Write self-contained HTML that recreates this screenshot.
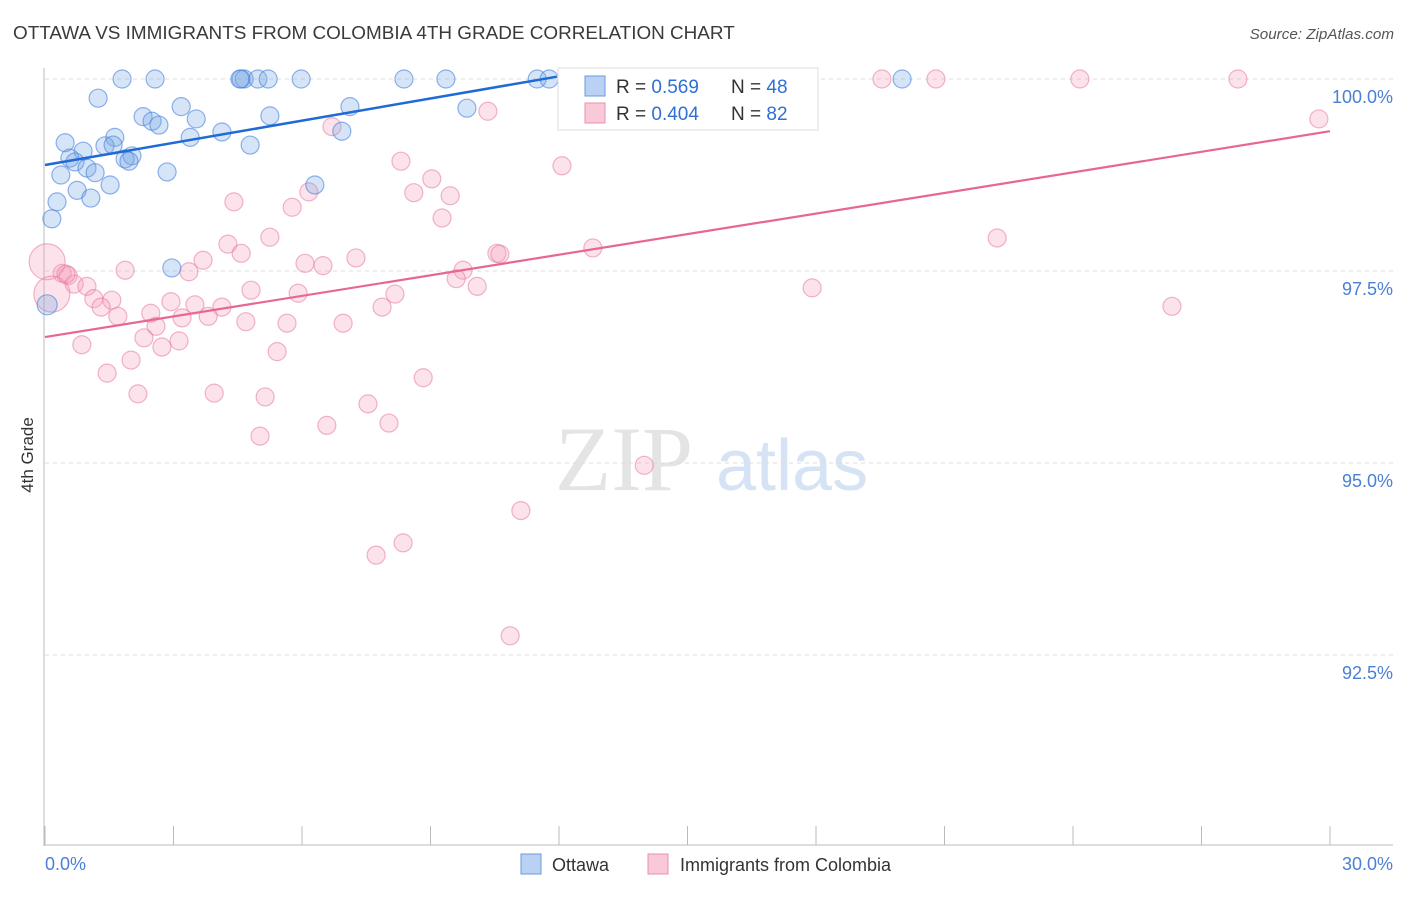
<!DOCTYPE html>
<html><head><meta charset="utf-8"><style>
body{margin:0;background:#fff;font-family:"Liberation Sans",sans-serif;}
</style></head><body>
<svg id="chart" width="1406" height="892" xmlns="http://www.w3.org/2000/svg" font-family="Liberation Sans, sans-serif">
<text x="13" y="39" font-size="18.9" fill="#3a3a3a">OTTAWA VS IMMIGRANTS FROM COLOMBIA 4TH GRADE CORRELATION CHART</text>
<text x="1394" y="39" font-size="15.2" fill="#555" font-style="italic" text-anchor="end">Source: ZipAtlas.com</text>
<g>
<text x="555" y="490" font-size="92" fill="#e4e4e4" font-family="Liberation Serif, serif">ZIP</text>
<text x="716" y="490" font-size="72" fill="#d6e3f4">atlas</text>
</g>
<g id="grid"></g>
<g id="axes"></g>
<g id="pts"></g>
<g id="trend"></g>
<text transform="translate(33,455) rotate(-90)" font-size="17" fill="#333" text-anchor="middle">4th Grade</text>
<g>
<rect x="558" y="68" width="260" height="62" fill="#fff" stroke="#ddd"/>
<rect x="585" y="76" width="20" height="20" fill="#b9d2f4" stroke="#6a9ae0"/>
<text x="616" y="93" font-size="19" fill="#333">R = <tspan fill="#2f6fd6">0.569</tspan></text>
<text x="731" y="93" font-size="19" fill="#333">N = <tspan fill="#2f6fd6">48</tspan></text>
<rect x="585" y="103" width="20" height="20" fill="#f9c9d7" stroke="#e890b0"/>
<text x="616" y="120" font-size="19" fill="#333">R = <tspan fill="#2f6fd6">0.404</tspan></text>
<text x="731" y="120" font-size="19" fill="#333">N = <tspan fill="#2f6fd6">82</tspan></text>
</g>
<g>
<rect x="521" y="854" width="20" height="20" fill="#b9d2f4" stroke="#6a9ae0"/>
<text x="552" y="871" font-size="18" fill="#333">Ottawa</text>
<rect x="648" y="854" width="20" height="20" fill="#f9c9d7" stroke="#e890b0"/>
<text x="680" y="871" font-size="18" fill="#333">Immigrants from Colombia</text>
</g>
</svg>
<script>
const yTicks=[100,97.5,95,92.5];
const yTickLabels=["100.0%","97.5%","95.0%","92.5%"];
const xTicks=[0,3,6,9,12,15,18,21,24,27,30];
const blueX=[1.80,2.57,4.58,4.65,4.97,5.21,5.98,8.38,9.36,11.49,11.77,20.01,1.24,3.18,2.29,2.50,2.66,3.53,5.25,7.12,9.85,0.47,1.63,1.40,0.89,0.58,0.70,2.03,1.87,1.96,4.13,3.39,4.79,6.93,0.37,0.98,1.17,2.85,1.52,0.75,1.07,0.28,0.16,6.30,2.96,0.05,1.59,4.55];
const blueY=[100,100,100,100,100,100,100,100,100,100,100,100,99.75,99.64,99.51,99.45,99.40,99.48,99.52,99.64,99.62,99.17,99.24,99.13,99.06,98.97,98.92,99.00,98.96,98.93,99.31,99.24,99.14,99.32,98.75,98.84,98.78,98.79,98.62,98.55,98.45,98.40,98.18,98.62,97.54,97.06,99.14,100];
const pinkX=[13.80,19.54,20.80,24.16,27.85,29.74,10.34,6.70,8.31,12.07,9.03,8.61,9.46,6.16,5.77,4.41,9.27,5.25,4.27,4.58,22.23,12.79,10.55,10.62,7.26,6.07,6.49,3.69,9.76,3.36,1.87,0.40,0.54,0.68,0.98,9.60,10.09,4.81,5.91,8.17,17.91,1.14,1.56,2.94,3.50,1.31,4.13,7.87,26.31,2.47,1.70,3.81,3.20,2.59,4.69,5.65,6.96,2.31,3.13,0.86,2.73,5.42,2.01,1.45,8.83,2.17,3.95,5.14,7.54,8.03,6.58,5.02,13.99,11.11,8.36,7.73,10.86,0.05,0.16,0.49];
const pinkY=[100,100,100,100,100,99.48,99.58,99.38,98.93,98.87,98.70,98.52,98.48,98.53,98.33,98.40,98.19,97.94,97.85,97.73,97.93,97.80,97.73,97.72,97.67,97.60,97.57,97.64,97.51,97.49,97.51,97.47,97.44,97.33,97.30,97.40,97.30,97.25,97.21,97.20,97.28,97.14,97.12,97.10,97.06,97.03,97.03,97.03,97.04,96.95,96.91,96.91,96.89,96.78,96.84,96.82,96.82,96.63,96.59,96.54,96.51,96.45,96.34,96.17,96.11,95.90,95.91,95.86,95.77,95.52,95.49,95.35,94.97,94.38,93.96,93.80,92.75,97.62,97.20,97.46];
const pinkBig=[77,78];
const blueTrendX=[0,11.95], blueTrendY=[98.88,100.03];
const pinkTrendX=[0,30], pinkTrendY=[96.64,99.32];

const NS="http://www.w3.org/2000/svg";
const xs=v=>45+v/30*1285;
const ys=v=>79+(100-v)/2.5*192;
function mk(t,a,p){const e=document.createElementNS(NS,t);for(const k in a)e.setAttribute(k,a[k]);p.appendChild(e);return e;}
const grid=document.getElementById('grid'),axes=document.getElementById('axes'),pts=document.getElementById('pts'),trend=document.getElementById('trend');
yTicks.forEach((t,i)=>{
 const l=mk('line',{x1:45,x2:1393,y1:ys(t),y2:ys(t),stroke:'#ddd','stroke-dasharray':'4,4'},grid);
 
 
 const tx=mk('text',{x:1393,y:ys(t)+24,'font-size':18,fill:'#4a7fd4','text-anchor':'end'},axes);
 tx.textContent=yTickLabels[i];
 
 
});
const ya=mk('line',{x1:44,x2:44,y1:68,y2:846,stroke:'#bbb'},axes);


const xa=mk('line',{x1:44,x2:1393,y1:845,y2:845,stroke:'#bbb'},axes);


xTicks.forEach(t=>{const l=mk('line',{x1:xs(t),x2:xs(t),y1:826,y2:845,stroke:'#bbb'},axes);
 
 });
const x0=mk('text',{x:45,y:870,'font-size':18,fill:'#4a7fd4'},axes);x0.textContent='0.0%';


const x1=mk('text',{x:1393,y:870,'font-size':18,fill:'#4a7fd4','text-anchor':'end'},axes);x1.textContent='30.0%';


pinkX.forEach((v,i)=>{const big=pinkBig.includes(i);
 const c=mk('circle',{cx:xs(v),cy:ys(pinkY[i]),r:big?18:9,fill:'rgba(244,160,185,0.3)',stroke:'rgba(230,120,160,0.55)','stroke-width':1.2},pts);
 
 });
blueX.forEach((v,i)=>{
 const c=mk('circle',{cx:xs(v),cy:ys(blueY[i]),r:i===45?10:9,fill:'rgba(120,165,230,0.3)',stroke:'rgba(70,130,220,0.6)','stroke-width':1.2},pts);
 
 });
const bt=mk('line',{x1:xs(blueTrendX[0]),y1:ys(blueTrendY[0]),x2:xs(blueTrendX[1]),y2:ys(blueTrendY[1]),stroke:'#1f6ad6','stroke-width':2.5},trend);


const pt=mk('line',{x1:xs(pinkTrendX[0]),y1:ys(pinkTrendY[0]),x2:xs(pinkTrendX[1]),y2:ys(pinkTrendY[1]),stroke:'#e8678f','stroke-width':2.2},trend);


</script>
</body></html>
